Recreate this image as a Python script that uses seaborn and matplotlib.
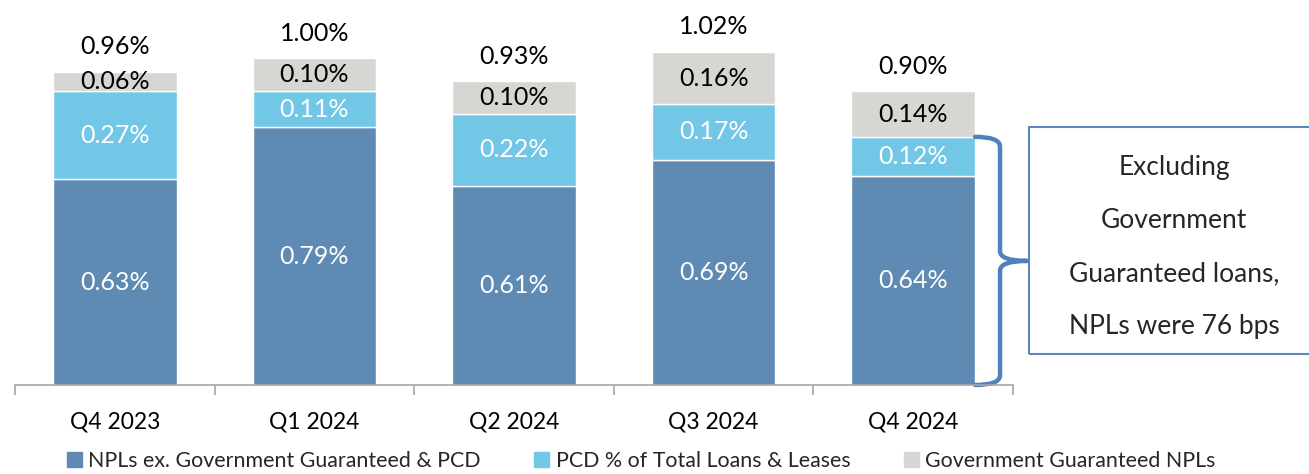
import numpy as np
import pandas as pd
import matplotlib
matplotlib.use("Agg")
import matplotlib.pyplot as plt
import matplotlib.patches as mpatches
from matplotlib.path import Path
import seaborn as sns

quarters = ["Q4 2023", "Q1 2024", "Q2 2024", "Q3 2024", "Q4 2024"]
npl_ex = [0.63, 0.79, 0.61, 0.69, 0.64]
pcd = [0.27, 0.11, 0.22, 0.17, 0.12]
gov_npl = [0.06, 0.10, 0.10, 0.16, 0.14]
totals = [0.96, 1.00, 0.93, 1.02, 0.90]
series_names = ["NPLs ex. Government Guaranteed & PCD",
                "PCD % of Total Loans & Leases",
                "Government Guaranteed NPLs"]
callout = "Excluding\nGovernment\nGuaranteed loans,\nNPLs were 76 bps"

colors = ["#5F8AB3", "#72C6E6", "#D6D6D2"]
label_colors = ["white", "white", "black"]

sns.set_theme(style="white")
plt.rcParams["font.family"] = ["Lato", "DejaVu Sans"]

W, H = 1309, 474
fig = plt.figure(figsize=(W / 100, H / 100), dpi=100)
ax = fig.add_axes([15 / W, 89 / H, 998 / W, 385 / H])

bottom = np.zeros(len(quarters))
layers = [npl_ex, pcd, gov_npl]
for vals, col, lc in zip(layers, colors, label_colors):
    vals = np.array(vals)
    sns.barplot(x=quarters, y=vals, bottom=bottom, color=col, width=0.62,
                saturation=1, ax=ax)
    for i, v in enumerate(vals):
        ax.text(i, bottom[i] + v / 2, f"{v:.2f}%", ha="center", va="center",
                color=lc, fontsize=18)
    bottom = bottom + vals

for i, t in enumerate(totals):
    ax.annotate(f"{t:.2f}%", (i, bottom[i]), xytext=(0, 18),
                textcoords="offset points", ha="center", va="center",
                fontsize=18, color="black")

ax.set_xlim(-0.5, 4.5)
ax.set_ylim(0, 385 / 326.5)
ax.set_yticks([])
for s in ["left", "right", "top"]:
    ax.spines[s].set_visible(False)
ax.spines["bottom"].set_color("#A6A6A6")
ax.spines["bottom"].set_linewidth(1.2)
ax.set_xticks(np.arange(-0.5, 5, 1), minor=True)
ax.tick_params(axis="x", which="major", length=0, pad=19, labelsize=16.5,
               labelcolor="black")
ax.tick_params(axis="x", which="minor", length=7, width=1.2, color="#A6A6A6",
               direction="out", bottom=True)

# curly bracket next to last bar
top_v = npl_ex[-1] + pcd[-1]
x0, x1, xp = 4.31, 4.435, 4.57
mid = top_v / 2
d = 0.03
verts = [(x0, top_v), (x1, top_v), (x1, top_v - d), (x1, mid + d),
         (x1, mid), (xp, mid),
         (xp, mid), (x1, mid), (x1, mid - d), (x1, d),
         (x1, 0.0), (x0, 0.0)]
codes = [Path.MOVETO, Path.CURVE3, Path.CURVE3, Path.LINETO,
         Path.CURVE3, Path.CURVE3,
         Path.MOVETO, Path.CURVE3, Path.CURVE3, Path.LINETO,
         Path.CURVE3, Path.CURVE3]
ax.add_patch(mpatches.PathPatch(Path(verts, codes), fill=False,
                                edgecolor="#4F81BD", lw=3.2, clip_on=False,
                                capstyle="round", joinstyle="round"))

# callout box
box = mpatches.Rectangle((1029 / W, 1 - 354 / H), 300 / W, 227 / H,
                         transform=fig.transFigure, fill=False,
                         edgecolor="#5B87C0", lw=1.5, clip_on=False)
fig.patches.append(box)
fig.text(1174 / W, 1 - 247 / H, callout, ha="center", va="center",
         fontsize=19, linespacing=2.4)

handles = [mpatches.Patch(color=c) for c in colors]
fig.legend(handles, series_names, loc="center", bbox_to_anchor=(0.49, 1 - 461 / H),
           ncol=3, frameon=False, fontsize=15.4, handlelength=0.7,
           handleheight=0.7, handletextpad=0.3, columnspacing=2.5)

fig.savefig("out.png", dpi=100)
